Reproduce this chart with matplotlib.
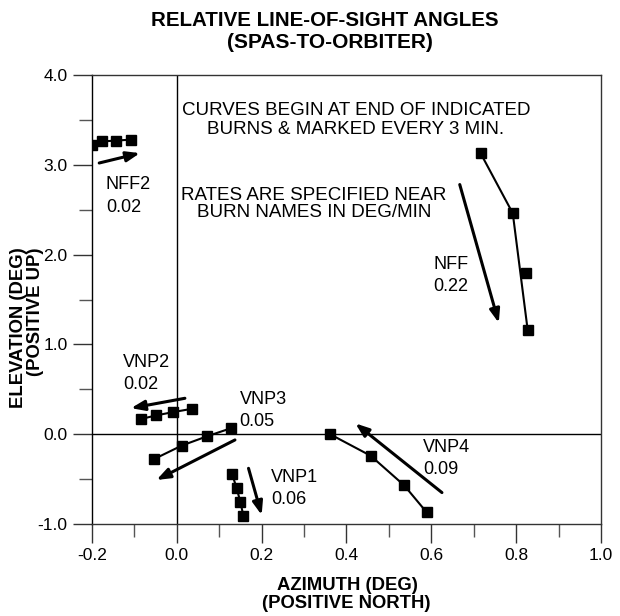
import matplotlib
matplotlib.use("Agg")
import matplotlib.pyplot as plt
from matplotlib.ticker import MultipleLocator

plt.rcParams['font.family'] = ['Liberation Sans', 'DejaVu Sans']

# ---- data (azimuth deg, elevation deg) ----
nff2_az = [-0.201, -0.176, -0.143, -0.108]
nff2_el = [3.22, 3.26, 3.27, 3.28]

vnp2_az = [-0.084, -0.048, -0.009, 0.036]
vnp2_el = [0.17, 0.21, 0.246, 0.283]

vnp3_az = [-0.055, 0.012, 0.072, 0.128]
vnp3_el = [-0.28, -0.126, -0.022, 0.067]

vnp1_az = [0.130, 0.141, 0.150, 0.157]
vnp1_el = [-0.44, -0.60, -0.76, -0.91]

vnp4_az = [0.360, 0.457, 0.536, 0.589]
vnp4_el = [0.003, -0.24, -0.57, -0.87]

nff_az = [0.716, 0.792, 0.823, 0.827]
nff_el = [3.13, 2.46, 1.79, 1.165]
nff_line_idx = [0, 1, 3]   # curve drawn through these marks

# direction arrows: (start az, start el, end az, end el)
arrows = {
    'NFF2': (-0.183, 3.02, -0.087, 3.13),
    'VNP2': (0.019, 0.40, -0.108, 0.29),
    'VNP3': (0.137, -0.064, -0.048, -0.51),
    'VNP1': (0.169, -0.38, 0.200, -0.90),
    'VNP4': (0.625, -0.65, 0.421, 0.12),
    'NFF':  (0.667, 2.78, 0.759, 1.24),
}

# burn labels: name, rate, position of name text
labels = [
    ('NFF2', '0.02', -0.167, 2.78),
    ('VNP2', '0.02', -0.127, 0.80),
    ('VNP3', '0.05', 0.148, 0.39),
    ('VNP1', '0.06', 0.222, -0.48),
    ('VNP4', '0.09', 0.581, -0.145),
    ('NFF', '0.22', 0.604, 1.89),
]

x_ticks = [-0.2, 0.0, 0.2, 0.4, 0.6, 0.8, 1.0]
y_ticks = [-1.0, 0.0, 1.0, 2.0, 3.0, 4.0]

W, H = 620, 616
fig = plt.figure(figsize=(W / 100, H / 100), dpi=100)
ax = fig.add_axes([92 / W, 1 - 524 / H, (601 - 92) / W, (524 - 75) / H])

ax.set_xlim(-0.2, 1.0)
ax.set_ylim(-1.0, 4.0)

ax.axhline(0, color='black', lw=1.0, zorder=1)
ax.axvline(0, color='black', lw=1.0, zorder=1)

mk = dict(marker='s', ms=7, color='black', mfc='black', mec='black')
for az, el in [(nff2_az, nff2_el), (vnp2_az, vnp2_el), (vnp3_az, vnp3_el),
               (vnp1_az, vnp1_el), (vnp4_az, vnp4_el)]:
    ax.plot(az, el, lw=1.5, zorder=3, **mk)

ax.plot([nff_az[i] for i in nff_line_idx], [nff_el[i] for i in nff_line_idx],
        color='black', lw=1.5, zorder=3)
ax.plot(nff_az, nff_el, ls='none', zorder=4, **mk)

for name, (x0, y0, x1, y1) in arrows.items():
    ax.annotate('', xy=(x1, y1), xytext=(x0, y0),
                arrowprops=dict(arrowstyle='-|>,head_length=0.8,head_width=0.3',
                                color='black', lw=2.2, shrinkA=0, shrinkB=0),
                zorder=5)

for name, rate, x, y in labels:
    ax.text(x, y, name, fontsize=13, ha='left', va='center')
    ax.text(x, y - 0.25, rate, fontsize=13, ha='left', va='center')

ax.text(0.4225, 3.50, 'CURVES BEGIN AT END OF INDICATED\nBURNS & MARKED EVERY 3 MIN.',
        fontsize=13.5, ha='center', va='center', linespacing=1.1)
ax.text(0.323, 2.56, 'RATES ARE SPECIFIED NEAR\nBURN NAMES IN DEG/MIN',
        fontsize=13.5, ha='center', va='center', linespacing=1.0)

ax.set_xticks(x_ticks)
ax.set_xticklabels([f'{v:.1f}' for v in x_ticks])
ax.set_yticks(y_ticks)
ax.set_yticklabels([f'{v:.1f}' for v in y_ticks])
ax.xaxis.set_minor_locator(MultipleLocator(0.1))
ax.yaxis.set_minor_locator(MultipleLocator(0.5))
ax.tick_params(which='major', direction='out', length=13.5, width=1.0,
               labelsize=12.5, pad=4, color='#333333')
ax.tick_params(which='minor', direction='out', length=9.5, width=1.0, color='#555555')
for s in ax.spines.values():
    s.set_color('#333333')
    s.set_linewidth(1.0)
ax.spines['left'].set_color('black')

fig.text(325 / W, 1 - 21 / H, 'RELATIVE LINE-OF-SIGHT ANGLES', fontsize=14.8,
         fontweight='bold', ha='center', va='center')
fig.text(330 / W, 1 - 43 / H, '(SPAS-TO-ORBITER)', fontsize=15,
         fontweight='bold', ha='center', va='center')

fig.text(347 / W, 1 - 585 / H, 'AZIMUTH (DEG)', fontsize=13.3,
         fontweight='bold', ha='center', va='center')
fig.text(346 / W, 1 - 603 / H, '(POSITIVE NORTH)', fontsize=13.3,
         fontweight='bold', ha='center', va='center')

fig.text(19 / W, 1 - 247 / H, 'ELEVATION (DEG)', fontsize=13.3, fontweight='bold',
         rotation=90, ha='center', va='top')
fig.text(36 / W, 1 - 247 / H, '(POSITIVE UP)', fontsize=13.3, fontweight='bold',
         rotation=90, ha='center', va='top')

fig.savefig('out.png', dpi=100)
